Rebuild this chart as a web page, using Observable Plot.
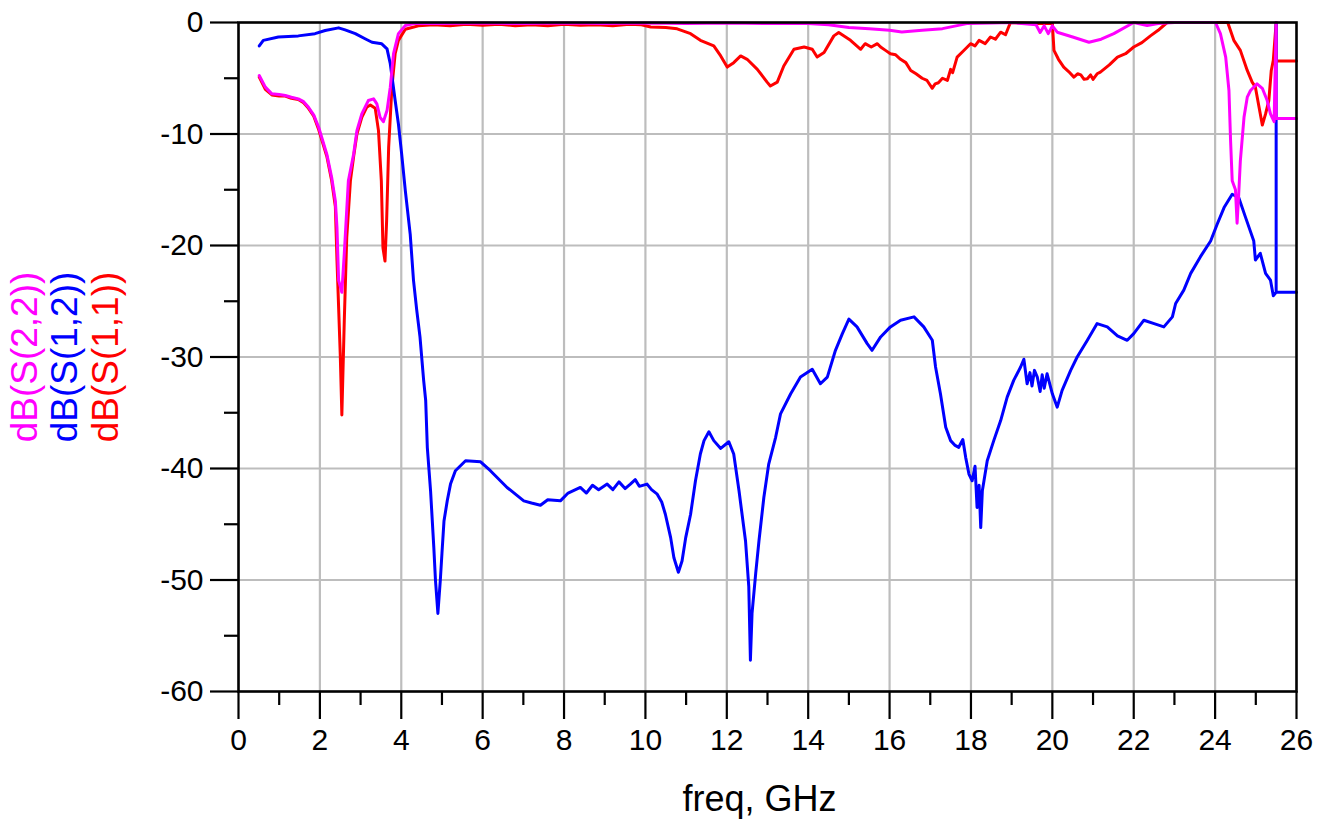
<!DOCTYPE html>
<html>
<head>
<meta charset="utf-8">
<script src="https://cdn.jsdelivr.net/npm/d3@7"></script>
<script src="https://cdn.jsdelivr.net/npm/@observablehq/plot@0.6"></script>
<style>
  html, body { margin: 0; padding: 0; background: #fff; overflow: hidden; }
</style>
</head>
<body>
<div id="chart"></div>
<script>
// ---- Data ----
const seriesNames = ["dB(S(2,2))", "dB(S(1,2))", "dB(S(1,1))"];
const seriesColors = ["#ff00ff", "#0000ff", "#ff0000"];

const xTicks = [0, 2, 4, 6, 8, 10, 12, 14, 16, 18, 20, 22, 24, 26];
const yTicks = [-60, -50, -40, -30, -20, -10, 0];

// dB(S(1,1)) – red
const s11Freq = [0.51,0.66,0.82,1.0,1.15,1.3,1.47,1.6,1.72,1.85,1.97,2.17,2.29,2.38,2.42,2.50,2.54,2.60,2.66,2.75,2.83,2.91,3.03,3.15,3.24,3.36,3.44,3.51,3.55,3.60,3.64,3.69,3.77,3.85,3.93,4.10,4.42,4.8,5.2,5.6,6.0,6.4,6.8,7.2,7.6,8.0,8.4,8.8,9.2,9.6,9.9,10.13,10.5,10.78,11.11,11.35,11.68,11.85,12.01,12.17,12.34,12.50,12.75,12.99,13.07,13.24,13.40,13.65,13.90,14.10,14.22,14.39,14.63,14.75,15.04,15.29,15.40,15.55,15.70,15.78,15.90,16.02,16.15,16.27,16.40,16.52,16.65,16.80,16.92,17.05,17.12,17.20,17.30,17.42,17.50,17.55,17.66,17.80,17.99,18.10,18.20,18.35,18.48,18.60,18.73,18.85,18.97,19.30,19.60,20.00,20.04,20.15,20.28,20.40,20.53,20.62,20.70,20.78,20.86,20.94,21.00,21.10,21.18,21.40,21.60,21.80,22.00,22.20,22.41,22.60,22.82,24.31,24.46,24.62,24.79,24.91,24.99,25.08,25.16,25.24,25.32,25.38,25.43,25.50,25.50,26.0];
const s11dB   = [-4.9,-6.0,-6.5,-6.6,-6.6,-6.8,-6.9,-7.2,-7.7,-8.4,-9.6,-12.0,-14.2,-16.5,-21.3,-29.7,-35.2,-26.7,-19.3,-14.2,-12.0,-10.0,-8.5,-7.6,-7.4,-7.7,-9.7,-14.2,-20.2,-21.4,-17.8,-11.2,-5.8,-2.8,-1.6,-0.6,-0.3,-0.2,-0.3,-0.15,-0.25,-0.15,-0.3,-0.2,-0.3,-0.15,-0.25,-0.2,-0.3,-0.15,-0.2,-0.4,-0.45,-0.57,-1.0,-1.6,-2.1,-3.0,-4.0,-3.6,-3.0,-3.3,-4.2,-5.35,-5.7,-5.35,-3.9,-2.4,-2.2,-2.4,-3.1,-2.7,-1.2,-0.9,-1.6,-2.4,-1.9,-2.2,-1.9,-2.2,-2.5,-2.8,-2.9,-3.3,-3.6,-4.3,-4.6,-5.0,-5.2,-5.9,-5.5,-5.4,-5.0,-5.2,-4.2,-4.5,-3.1,-2.6,-1.9,-2.1,-1.6,-1.9,-1.3,-1.5,-0.87,-1.1,0,-0.05,-0.1,-0.1,-2.5,-3.3,-4.0,-4.4,-4.9,-4.6,-4.7,-5.1,-5.05,-4.7,-5.1,-4.6,-4.45,-3.8,-3.1,-2.8,-2.2,-1.8,-1.2,-0.7,0,0,-1.6,-2.5,-4.3,-5.35,-5.8,-7.6,-9.2,-8.2,-7.0,-4.3,-3.4,0,-3.45,-3.45];

// dB(S(1,2)) – blue
const s12Freq = [0.51,0.61,0.98,1.47,1.88,2.13,2.46,2.62,2.87,3.11,3.28,3.52,3.65,3.73,3.85,3.93,4.01,4.10,4.22,4.30,4.38,4.46,4.55,4.60,4.64,4.72,4.80,4.84,4.90,4.96,5.00,5.05,5.13,5.21,5.33,5.58,5.95,6.19,6.60,7.01,7.20,7.42,7.60,7.91,8.10,8.40,8.55,8.70,8.85,9.06,9.20,9.35,9.50,9.63,9.75,9.85,10.04,10.15,10.29,10.40,10.49,10.62,10.70,10.81,10.90,10.99,11.11,11.23,11.35,11.44,11.56,11.68,11.85,12.05,12.17,12.30,12.46,12.54,12.58,12.62,12.71,12.79,12.91,13.03,13.20,13.32,13.57,13.81,14.10,14.30,14.47,14.67,14.84,15.00,15.20,15.45,15.57,15.78,16.02,16.27,16.60,16.84,17.05,17.13,17.25,17.38,17.50,17.60,17.70,17.80,17.87,17.95,18.03,18.10,18.15,18.20,18.24,18.28,18.32,18.40,18.56,18.73,18.89,19.05,19.22,19.30,19.38,19.45,19.50,19.56,19.63,19.70,19.75,19.80,19.87,20.00,20.12,20.24,20.45,20.61,20.86,21.10,21.35,21.60,21.84,22.00,22.25,22.50,22.74,22.95,23.03,23.23,23.40,23.64,23.89,24.05,24.22,24.42,24.58,24.75,24.95,24.99,25.11,25.24,25.36,25.43,25.50,25.50,25.50,26.0];
const s12dB   = [-2.1,-1.6,-1.3,-1.2,-1.0,-0.72,-0.48,-0.66,-1.0,-1.46,-1.77,-1.91,-2.36,-3.7,-7.0,-9.1,-11.8,-15.1,-19.0,-23.1,-25.8,-28.2,-32.1,-33.9,-38.1,-42.0,-47.1,-50.0,-53.0,-50.0,-47.6,-44.7,-42.9,-41.4,-40.2,-39.3,-39.4,-40.2,-41.7,-42.9,-43.1,-43.3,-42.8,-42.9,-42.2,-41.7,-42.2,-41.5,-41.9,-41.4,-41.9,-41.2,-41.8,-41.4,-41.0,-41.6,-41.4,-41.9,-42.3,-43.0,-44.1,-46.2,-48.0,-49.3,-48.3,-46.2,-44.1,-41.1,-38.7,-37.5,-36.7,-37.5,-38.2,-37.6,-38.7,-42.0,-46.5,-50.6,-57.2,-53.0,-49.4,-46.5,-42.6,-39.6,-37.2,-35.1,-33.3,-31.8,-31.1,-32.4,-31.8,-29.4,-27.9,-26.6,-27.3,-28.8,-29.4,-28.2,-27.3,-26.7,-26.4,-27.3,-28.5,-30.9,-33.3,-36.3,-37.5,-37.9,-38.1,-37.4,-39.0,-40.5,-41.1,-39.8,-43.5,-41.5,-45.3,-42.0,-41.1,-39.3,-37.5,-35.7,-33.6,-32.1,-30.9,-30.2,-32.4,-31.4,-32.6,-31.2,-31.8,-33.1,-31.6,-32.8,-31.5,-33.3,-34.5,-33.0,-31.2,-30.0,-28.5,-27.0,-27.3,-28.1,-28.5,-27.9,-26.7,-27.0,-27.3,-26.4,-25.2,-24.0,-22.5,-21.0,-19.6,-18.1,-16.6,-15.4,-15.7,-17.5,-19.6,-21.3,-20.7,-22.5,-23.1,-24.5,-24.2,0,-24.2,-24.2];

// dB(S(2,2)) – magenta
const s22Freq = [0.51,0.66,0.82,1.0,1.15,1.3,1.47,1.6,1.72,1.85,1.97,2.17,2.29,2.38,2.42,2.46,2.54,2.60,2.70,2.83,2.91,3.03,3.19,3.32,3.40,3.48,3.56,3.65,3.73,3.81,3.93,4.10,4.34,5.0,6.0,7.0,8.0,9.0,10.0,11.0,12.0,13.0,14.0,14.5,15.0,15.5,16.0,16.3,16.8,17.3,17.9,18.5,19.0,19.6,19.7,19.8,19.9,20.0,20.12,20.5,20.9,21.2,21.51,22.0,22.33,22.6,23.0,24.01,24.13,24.26,24.34,24.38,24.42,24.50,24.54,24.58,24.62,24.71,24.79,24.87,25.03,25.16,25.28,25.36,25.45,25.50,25.50,26.0];
const s22dB   = [-4.75,-5.8,-6.4,-6.45,-6.55,-6.7,-6.85,-7.1,-7.6,-8.3,-9.4,-11.8,-13.9,-16.0,-18.4,-23.1,-24.2,-20.7,-14.2,-11.8,-9.7,-8.2,-7.0,-6.85,-7.3,-8.5,-8.9,-7.9,-5.8,-2.8,-1.0,-0.27,-0.06,-0.1,-0.05,-0.1,-0.05,-0.1,-0.05,-0.1,-0.05,-0.1,-0.1,-0.2,-0.45,-0.55,-0.7,-0.85,-0.7,-0.55,-0.1,-0.05,0,-0.2,-0.9,-0.3,-1.0,-0.3,-0.87,-1.3,-1.77,-1.5,-1.0,0,-0.27,-0.1,0,0,-1.0,-3.1,-6.1,-10.6,-14.2,-15.0,-18.0,-15.4,-12.4,-8.5,-6.7,-6.1,-5.5,-5.9,-7.0,-8.2,-8.9,0,-8.6,-8.6];

// Build tables for the library
const toRows = (freq, db, name) => freq.map((f, i) => ({freq: f, db: db[i], name}));
const rowsS11 = toRows(s11Freq, s11dB, seriesNames[2]);
const rowsS12 = toRows(s12Freq, s12dB, seriesNames[1]);
const rowsS22 = toRows(s22Freq, s22dB, seriesNames[0]);

const fontFamily = "'Liberation Sans', Arial, Helvetica, sans-serif";

const chart = Plot.plot({
  width: 1322,
  height: 834,
  marginLeft: 238,
  marginRight: 26,
  marginTop: 22,
  marginBottom: 143,
  style: {fontFamily, background: "#ffffff", color: "#000"},
  x: {domain: [0, 26]},
  y: {domain: [-60, 0]},
  marks: [
    Plot.gridX(d3.range(2, 26, 2), {stroke: "#bdbdbd", strokeOpacity: 1, strokeWidth: 2.2}),
    Plot.gridY(d3.range(-50, 0, 10), {stroke: "#bdbdbd", strokeOpacity: 1, strokeWidth: 2.2}),
    Plot.axisX(xTicks, {tickSize: 28, tickPadding: 9, fontSize: 30, strokeWidth: 2.2, label: null, tickFormat: d => String(d)}),
    Plot.axisX(d3.range(1, 26, 2), {tickSize: 14, strokeWidth: 2.2, label: null, tickFormat: () => ""}),
    Plot.axisY(yTicks, {tickSize: 28, tickPadding: 7, fontSize: 30, strokeWidth: 2.2, label: null, tickFormat: d => String(d)}),
    Plot.axisY(d3.range(-55, 0, 10), {tickSize: 14, strokeWidth: 2.2, label: null, tickFormat: () => ""}),
    Plot.line(rowsS11, {x: "freq", y: "db", stroke: seriesColors[2], strokeWidth: 3}),
    Plot.line(rowsS12, {x: "freq", y: "db", stroke: seriesColors[1], strokeWidth: 3}),
    Plot.line(rowsS22, {x: "freq", y: "db", stroke: seriesColors[0], strokeWidth: 3}),
    Plot.frame({stroke: "#000", strokeWidth: 2.6}),
    Plot.text(["freq, GHz"], {frameAnchor: "bottom", dx: -8, dy: 119, fontSize: 36, fill: "#000"}),
    Plot.text([seriesNames[0]], {frameAnchor: "left", dx: -213, rotate: -90, textAnchor: "middle", fontSize: 37, fill: seriesColors[0]}),
    Plot.text([seriesNames[1]], {frameAnchor: "left", dx: -173, rotate: -90, textAnchor: "middle", fontSize: 37, fill: seriesColors[1]}),
    Plot.text([seriesNames[2]], {frameAnchor: "left", dx: -132, rotate: -90, textAnchor: "middle", fontSize: 37, fill: seriesColors[2]})
  ]
});
document.getElementById("chart").appendChild(chart);
</script>
</body>
</html>
